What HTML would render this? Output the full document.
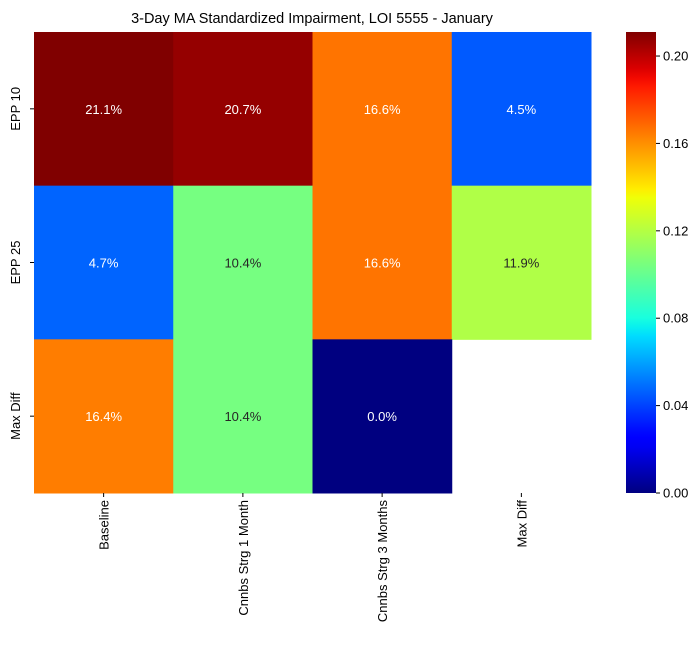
<!DOCTYPE html>
<html><head><meta charset="utf-8"><style>
body{margin:0;background:#fff;font-family:"Liberation Sans",sans-serif;}
</style></head><body>
<svg width="700" height="658" xmlns="http://www.w3.org/2000/svg" font-family="Liberation Sans, sans-serif">
<defs><linearGradient id="jetg" x1="0" y1="1" x2="0" y2="0"></linearGradient></defs>
<text x="312" y="23" text-anchor="middle" font-size="14.5">3-Day MA Standardized Impairment, LOI 5555 - January</text>
<g id="cells"></g>
<rect x="626" y="32" width="30" height="461" fill="url(#jetg)"/>
<g id="cbticks"></g>
</svg>
<script>
const rows=["EPP 10","EPP 25","Max Diff"];
const cols=["Baseline","Cnnbs Strg 1 Month","Cnnbs Strg 3 Months","Max Diff"];
const values=[[0.211,0.207,0.166,0.045],[0.047,0.104,0.166,0.119],[0.164,0.104,0.0,null]];
const cbTicks=[0,0.04,0.08,0.12,0.16,0.20];
const vmax=0.211;
const X0=34,Y0=32,W=557,H=461;
const cw=W/cols.length, rh=H/rows.length;
function interp(pts,t){
 for(let k=1;k<pts.length;k++){if(t<=pts[k][0]){const a=pts[k-1],b=pts[k];return a[1]+(b[1]-a[1])*(t-a[0])/(b[0]-a[0]);}}
 return pts[pts.length-1][1];
}
const RJ=[[0,0],[0.35,0],[0.66,1],[0.89,1],[1,0.5]];
const GJ=[[0,0],[0.125,0],[0.375,1],[0.64,1],[0.91,0],[1,0]];
const BJ=[[0,0.5],[0.11,1],[0.34,1],[0.65,0],[1,0]];
function jet(t){t=Math.max(0,Math.min(1,t));return [interp(RJ,t),interp(GJ,t),interp(BJ,t)];}
function css(c){return `rgb(${Math.round(c[0]*255)},${Math.round(c[1]*255)},${Math.round(c[2]*255)})`;}
const ns="http://www.w3.org/2000/svg";
const grad=document.getElementById('jetg');
for(let k=0;k<=50;k++){const s=document.createElementNS(ns,'stop');s.setAttribute('offset',k/50);s.setAttribute('stop-color',css(jet(k/50)));grad.appendChild(s);}
const g=document.getElementById('cells');
const svg=document.querySelector('svg');
function mk(t,a,p){const e=document.createElementNS(ns,t);for(const k in a)e.setAttribute(k,a[k]);p.appendChild(e);return e;}
function lin(c){return c<=0.03928?c/12.92:Math.pow((c+0.055)/1.055,2.4);}
values.forEach((row,i)=>row.forEach((v,j)=>{
 if(v===null)return;
 const c=jet(v/vmax);
 const rect=mk('rect',{x:X0+j*cw,y:Y0+i*rh,width:cw+0.5,height:rh+0.5,fill:css(c)},g);
 
 
 const lum=0.2126*lin(c[0])+0.7152*lin(c[1])+0.0722*lin(c[2]);
 const t=mk('text',{x:X0+(j+0.5)*cw,y:Y0+(i+0.5)*rh+5,'text-anchor':'middle','font-size':13,fill:lum>0.408?'#262626':'#fff'},g);
 t.textContent=(v*100).toFixed(1)+'%';
 
 
}));
rows.forEach((n,i)=>{
 const y=Y0+(i+0.5)*rh;
 mk('line',{x1:X0-4,x2:X0,y1:y,y2:y,stroke:'#000'},svg);
 const t=mk('text',{x:0,y:0,transform:`translate(20,${y}) rotate(-90)`,'text-anchor':'middle','font-size':13},svg);
 t.textContent=n;
 
 
});
cols.forEach((n,j)=>{
 const x=X0+(j+0.5)*cw;
 mk('line',{x1:x,x2:x,y1:Y0+H,y2:Y0+H+4,stroke:'#000'},svg);
 const t=mk('text',{x:0,y:0,transform:`translate(${x+5},${Y0+H+7}) rotate(-90)`,'text-anchor':'end','font-size':13},svg);
 t.textContent=n;
 
 
});
const cb=document.getElementById('cbticks');
cbTicks.forEach(v=>{
 const y=493-v/vmax*461;
 mk('line',{x1:656,x2:660,y1:y,y2:y,stroke:'#000'},cb);
 const t=mk('text',{x:663,y:y+4.5,'font-size':13},cb);
 t.textContent=v.toFixed(2);
 
 
});
</script>
</body></html>
